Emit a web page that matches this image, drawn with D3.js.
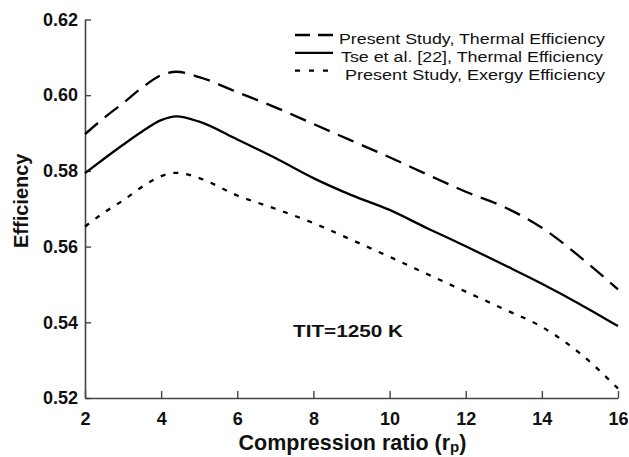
<!DOCTYPE html>
<html>
<head>
<meta charset="utf-8">
<script src="https://cdn.jsdelivr.net/npm/d3@7"></script>
<style>
  body { margin: 0; background: #fff; }
  text { font-family: "Liberation Sans", Arial, Helvetica, sans-serif; }
</style>
</head>
<body>
<div id="chart"></div>
<script>
// Compression ratio values where the curves were read
var ratios = [2, 2.5, 3, 3.5, 4, 4.4, 5, 6, 7, 8, 9, 10, 11, 12, 13, 14, 15, 16];

var presentThermal = [0.5897, 0.5940, 0.5979, 0.6020, 0.6053, 0.6062, 0.6048, 0.6008, 0.5968, 0.5924, 0.5880, 0.5836, 0.5790, 0.5745, 0.5705, 0.5650, 0.5573, 0.5487];
var tseThermal = [0.5794, 0.5832, 0.5869, 0.5904, 0.5934, 0.5944, 0.5930, 0.5883, 0.5834, 0.5781, 0.5736, 0.5697, 0.5648, 0.5601, 0.5552, 0.5502, 0.5448, 0.5390];
var presentExergy = [0.5653, 0.5690, 0.5722, 0.5758, 0.5786, 0.5795, 0.5781, 0.5735, 0.5700, 0.5662, 0.5618, 0.5573, 0.5527, 0.5481, 0.5435, 0.5388, 0.5318, 0.5225];

var legendLabels = [
  "Present Study, Thermal Efficiency",
  "Tse et al. [22], Thermal Efficiency",
  "Present Study, Exergy Efficiency"
];
var xTicks = [2, 4, 6, 8, 10, 12, 14, 16];
var yTicks = [0.52, 0.54, 0.56, 0.58, 0.60, 0.62];

var svgWidth = 629;
var svgHeight = 457;
var margin = { top: 19.5, right: 11, bottom: 59, left: 85 };
var width = svgWidth - margin.left - margin.right;
var height = svgHeight - margin.top - margin.bottom;

var svg = d3
  .select("#chart")
  .append("svg")
  .attr("width", svgWidth)
  .attr("height", svgHeight);

var chartGroup = svg
  .append("g")
  .attr("transform", `translate(${margin.left}, ${margin.top})`);

var xScale = d3.scaleLinear().domain([2, 16]).range([0, width]);
var yScale = d3.scaleLinear().domain([0.52, 0.62]).range([height, 0]);

// axes, ticks pointing into the plot
var bottomAxis = d3
  .axisBottom(xScale)
  .tickValues(xTicks)
  .tickFormat(d3.format("d"))
  .tickSizeInner(-7)
  .tickSizeOuter(0)
  .tickPadding(14);
var leftAxis = d3
  .axisLeft(yScale)
  .tickValues(yTicks)
  .tickFormat(d3.format(".2f"))
  .tickSizeInner(-6)
  .tickSizeOuter(0)
  .tickPadding(7);

var gx = chartGroup
  .append("g")
  .attr("transform", "translate(0, " + height + ")")
  .call(bottomAxis);
var gy = chartGroup.append("g").call(leftAxis);

[gx, gy].forEach(function (g) {
  g.select(".domain").attr("stroke", "#444").attr("stroke-width", 1.6);
  g.selectAll(".tick line").attr("stroke", "#444").attr("stroke-width", 1.4);
  g.selectAll(".tick text")
    .attr("fill", "#111")
    .style("font-size", "18px")
    .style("font-weight", "bold")
    .style("font-family", '"Liberation Sans", Arial, sans-serif');
});

// curves
var series = [
  { values: presentThermal, dash: "17,9" },
  { values: tseThermal, dash: null },
  { values: presentExergy, dash: "5,8" }
];

var line = d3
  .line()
  .x((d) => xScale(d[0]))
  .y((d) => yScale(d[1]))
  .curve(d3.curveMonotoneX);

series.forEach(function (s) {
  chartGroup
    .append("path")
    .datum(ratios.map((r, i) => [r, s.values[i]]))
    .attr("d", line)
    .attr("fill", "none")
    .attr("stroke", "#000")
    .attr("stroke-width", 2.3)
    .attr("stroke-dasharray", s.dash);
});

// legend
var legend = svg.append("g");
var legendDash = ["15,8", null, "5,9"];
var legendTextX = [339, 341, 345];
var legendTextLen = [266, 262, 260];
legendLabels.forEach(function (label, i) {
  var y = 35 + i * 17.8;
  legend
    .append("line")
    .attr("x1", 295)
    .attr("x2", 333)
    .attr("y1", y)
    .attr("y2", y)
    .attr("stroke", "#000")
    .attr("stroke-width", 2.3)
    .attr("stroke-dasharray", legendDash[i]);
  legend
    .append("text")
    .attr("x", legendTextX[i])
    .attr("y", y + 9)
    .attr("textLength", legendTextLen[i])
    .attr("lengthAdjust", "spacingAndGlyphs")
    .style("font-size", "15.5px")
    .attr("fill", "#111")
    .text(label);
});

// annotation
svg
  .append("text")
  .attr("x", 293)
  .attr("y", 337)
  .attr("textLength", 110)
  .attr("lengthAdjust", "spacingAndGlyphs")
  .style("font-size", "17px")
  .style("font-weight", "bold")
  .attr("fill", "#111")
  .text("TIT=1250 K");

// axis titles
var xTitle = svg
  .append("text")
  .attr("x", margin.left + width / 2 + 1)
  .attr("y", 450)
  .style("text-anchor", "middle")
  .style("font-size", "21.5px")
  .style("font-weight", "bold")
  .attr("fill", "#111");
xTitle.append("tspan").text("Compression ratio (r");
xTitle.append("tspan").attr("dy", 2).style("font-size", "15px").text("p");
xTitle.append("tspan").attr("dy", -2).text(")");

svg
  .append("text")
  .attr("transform", `translate(28, ${margin.top + height / 2 - 8}) rotate(-90)`)
  .style("text-anchor", "middle")
  .style("font-size", "20px")
  .style("font-weight", "bold")
  .attr("fill", "#111")
  .text("Efficiency");
</script>
</body>
</html>
